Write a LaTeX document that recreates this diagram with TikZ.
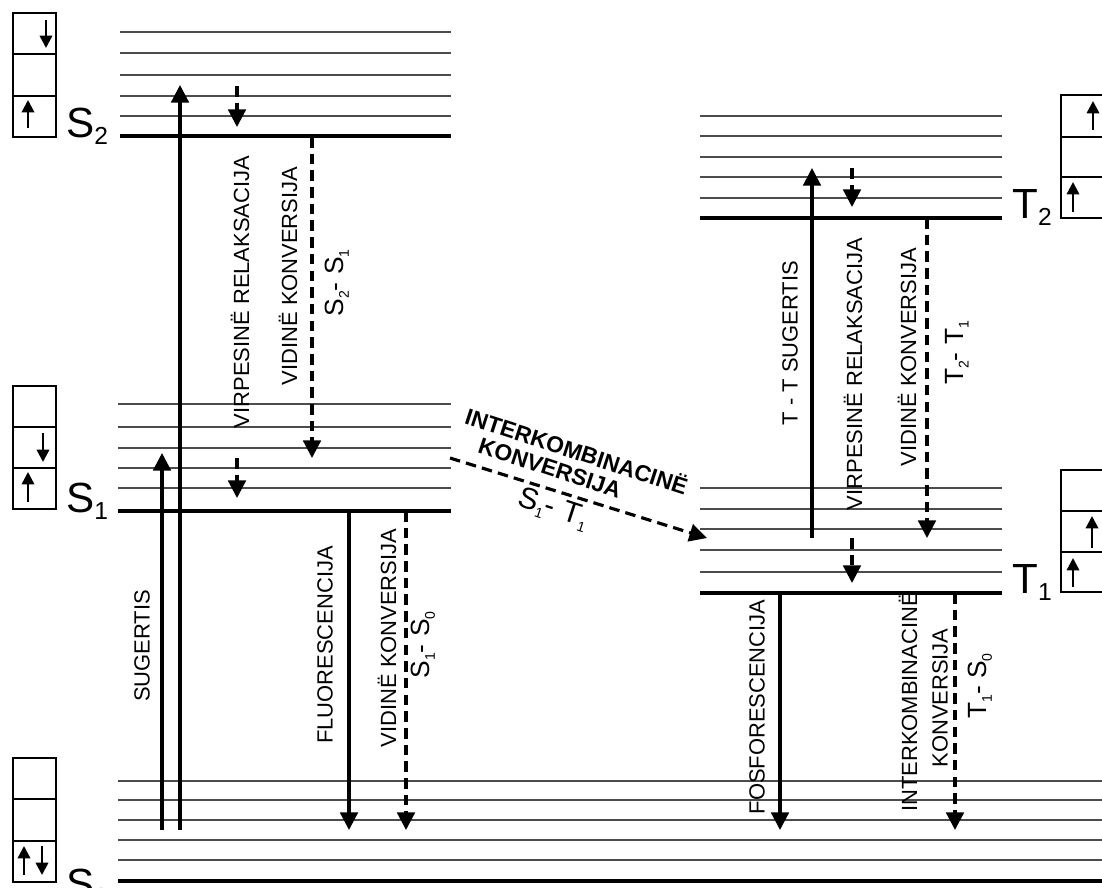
\documentclass[tikz,border=0pt]{standalone}
\usepackage{fontspec}
\setmainfont{Liberation Sans}
\usetikzlibrary{arrows.meta}

\tikzset{
  vib/.style={line width=0.9pt, gray!60!black},
  lvl/.style={line width=2pt},
  trans/.style={line width=1.8pt, -{Triangle[width=10pt,length=10pt]}},
  nonrad/.style={trans, dash pattern=on 6pt off 3.5pt},
  spin/.style={line width=1.4pt, -{Triangle[width=7pt,length=7pt]}},
  cell/.style={line width=0.9pt},
  lbl/.style={font=\fontsize{12.5}{14}\selectfont, inner sep=0pt, rotate=90},
  pairlbl/.style={font=\fontsize{15}{17}\selectfont, inner sep=0pt, rotate=90},
  statelbl/.style={font=\fontsize{24}{26}\selectfont, inner sep=0pt, anchor=base west},
}
\newcommand{\lowsub}[1]{\raisebox{-4.5pt}{\fontsize{14}{14}\selectfont #1}}
\newcommand{\tsub}[1]{\raisebox{-3pt}{\fontsize{8}{8}\selectfont #1}}

\begin{document}
\begin{tikzpicture}[x=0.02cm, y=-0.02cm]

\clip (0,0) rectangle (1102,887);
\fill[white] (0,0) rectangle (1102,887);

% ============================================================
% Singlet levels
% ============================================================
\foreach \y in {32,53,75,96,116} \draw[vib] (120,\y) -- (451,\y);
\draw[lvl] (120,136) -- (451,136);

\foreach \y in {404,427,448,468,488} \draw[vib] (118,\y) -- (451,\y);
\draw[lvl] (118,511) -- (451,511);

\foreach \y in {781,800,820,840,860} \draw[vib] (118,\y) -- (1102,\y);
\draw[lvl] (118,881) -- (1102,881);

% ============================================================
% Triplet levels
% ============================================================
\foreach \y in {116,136,157,177,198} \draw[vib] (700,\y) -- (1002,\y);
\draw[lvl] (700,218) -- (1002,218);

\foreach \y in {488,509,529,550,572} \draw[vib] (700,\y) -- (1002,\y);
\draw[lvl] (700,593) -- (1002,593);

% --- state names ---
\node[statelbl] (s2) at (66,137) {S\lowsub{2}};
\node[statelbl] (s1) at (66,512) {S\lowsub{1}};
\node[statelbl] (s0) at (66,898) {S\lowsub{0}};
\node[statelbl] (t2) at (1012,218) {T\lowsub{2}};
\node[statelbl] (t1) at (1012,593) {T\lowsub{1}};

% ============================================================
% Spin boxes
% ============================================================
% S2
\draw[cell] (13,13) rectangle (56,137);
\draw[cell] (13,54) -- (56,54) (13,96) -- (56,96);
\draw[spin] (46,20) -- (46,48);
\draw[spin] (28,128) -- (28,100);
% S1
\draw[cell] (13,386) rectangle (56,509);
\draw[cell] (13,427) -- (56,427) (13,468) -- (56,468);
\draw[spin] (43,433) -- (43,462);
\draw[spin] (28,502) -- (28,472);
% S0
\draw[cell] (13,758) rectangle (56,882);
\draw[cell] (13,799) -- (56,799) (13,841) -- (56,841);
\draw[spin] (24,875) -- (24,846);
\draw[spin] (42,846) -- (42,875);
% T2
\draw[cell] (1061,95) rectangle (1104,218);
\draw[cell] (1061,137) -- (1104,137) (1061,177) -- (1104,177);
\draw[spin] (1093,130) -- (1093,101);
\draw[spin] (1073,212) -- (1073,182);
% T1
\draw[cell] (1061,470) rectangle (1104,592);
\draw[cell] (1061,511) -- (1104,511) (1061,552) -- (1104,552);
\draw[spin] (1092,548) -- (1092,516);
\draw[spin] (1073,587) -- (1073,558);

% ============================================================
% Singlet transitions
% ============================================================
\draw[trans] (162,830) -- (162,453);
\draw[trans] (180,830) -- (180,85);
\draw[nonrad] (237,86) -- (237,127);
\draw[nonrad] (312,137) -- (312,458);
\draw[nonrad] (237,458) -- (237,498);
\draw[trans] (349,511) -- (349,830);
\draw[nonrad] (406,511) -- (406,830);

\node[lbl] (absS) at (142,646) {SUGERTIS};
\node[lbl] (vrS) at (240,292) {VIRPESINË RELAKSACIJA};
\node[lbl] (icS) at (288,276) {VIDINË KONVERSIJA};
\node[pairlbl] (icSlab) at (337,283) {S\tsub{2}- S\tsub{1}};
\node[lbl] (fl) at (325,645) {FLUORESCENCIJA};
\node[lbl] (icS0) at (387,638) {VIDINË KONVERSIJA};
\node[pairlbl] (icS0lab) at (423,645) {S\tsub{1}- S\tsub{0}};

% ============================================================
% Intersystem crossing S1 -> T1
% ============================================================
\draw[nonrad] (450,458) -- (707,538);
\begin{scope}[every node/.style={font=\fontsize{13}{15}\selectfont\bfseries,
    inner sep=0pt, rotate=-18}]
  \node (iscA) at (577,450) {INTERKOMBINACINË};
  \node (iscB) at (550,468) {KONVERSIJA};
\end{scope}
\node[font=\fontsize{17}{19}\selectfont, inner sep=0pt, rotate=-18]
  (iscC) at (553,509) {S\tsub{1}- T\tsub{1}};

% ============================================================
% Triplet transitions
% ============================================================
\draw[trans] (812,538) -- (812,168);
\draw[nonrad] (852,168) -- (852,207);
\draw[nonrad] (927,218) -- (927,538);
\draw[nonrad] (852,538) -- (852,583);
\draw[trans] (780,593) -- (780,830);
\draw[nonrad] (955,593) -- (955,830);

\node[lbl] (absT) at (790,343) {T - T SUGERTIS};
\node[lbl] (vrT) at (853,374) {VIRPESINË RELAKSACIJA};
\node[lbl] (icT) at (907,357) {VIDINË KONVERSIJA};
\node[pairlbl] (icTlab) at (957,353) {T\tsub{2}- T\tsub{1}};
\node[lbl] (ph) at (757,707) {FOSFORESCENCIJA};
\node[lbl] (iscT) at (908,702) {INTERKOMBINACINË};
\node[lbl] (iscT2) at (940,698) {KONVERSIJA};
\node[pairlbl] (iscTlab) at (980,686) {T\tsub{1}- S\tsub{0}};

\end{tikzpicture}
\end{document}
